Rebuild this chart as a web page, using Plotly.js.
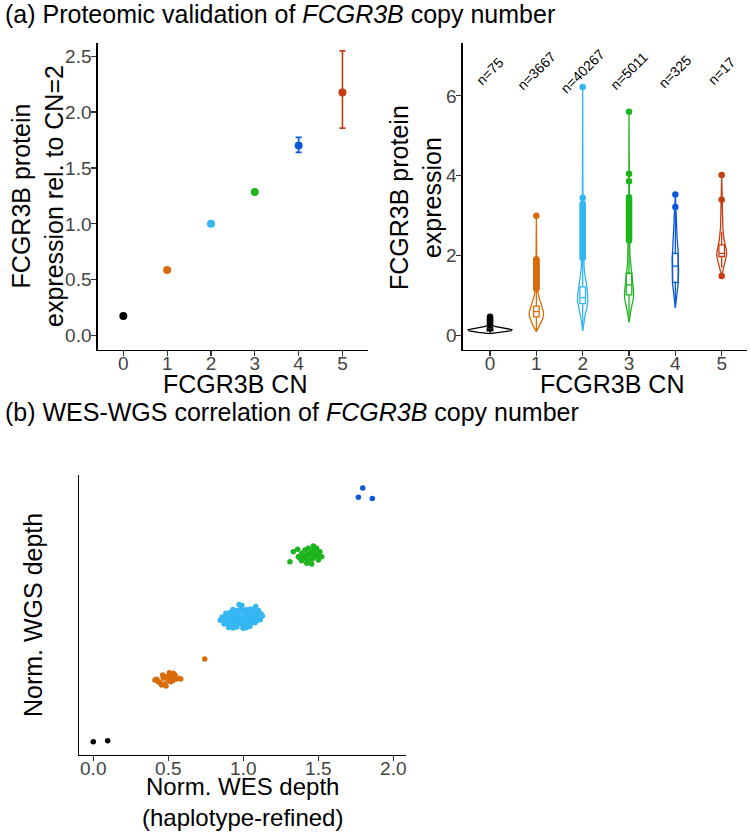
<!DOCTYPE html>
<html><head><meta charset="utf-8">
<script src="https://cdn.plot.ly/plotly-3.0.1.min.js"></script>
<style>html,body{margin:0;padding:0;background:#fff}#chart{width:750px;height:834px}</style>
</head><body><div id="chart"></div>
<script>
// ---------- data ----------
const cnCategories = [0, 1, 2, 3, 4, 5];
const cnColors = ['#000000', '#D96C0A', '#34B6F2', '#1EB41E', '#0A5AD8', '#C43E12'];

// (a) left: relative protein expression (mean and CI)
const relExpr   = [0.175, 0.587, 1.000, 1.284, 1.700, 2.175];
const relCiLow  = [0.168, 0.578, 0.994, 1.274, 1.639, 1.856];
const relCiHigh = [0.182, 0.596, 1.006, 1.294, 1.773, 2.547];

// (a) right: sample sizes
const nLabels = ['n=75', 'n=3667', 'n=40267', 'n=5011', 'n=325', 'n=17'];

// violin density profiles (expression levels and half widths)
const violinLevels = [
  [0.05, 0.08, 0.12, 0.15, 0.19, 0.23, 0.28, 0.35, 0.48],
  [0.10, 0.20, 0.30, 0.40, 0.50, 0.60, 0.70, 0.80, 0.90, 1.00, 1.10, 1.20, 1.40, 1.70, 2.00, 2.50, 3.00],
  [0.12, 0.30, 0.50, 0.70, 0.85, 1.00, 1.15, 1.30, 1.50, 1.70, 2.00, 2.50, 3.00, 3.50, 4.50, 6.22],
  [0.33, 0.50, 0.70, 0.90, 1.05, 1.20, 1.40, 1.60, 1.80, 2.00, 2.50, 3.00, 3.50, 4.00, 5.60],
  [0.69, 0.90, 1.10, 1.30, 1.60, 1.90, 2.10, 2.40, 2.70, 3.00, 3.30, 3.53],
  [1.49, 1.70, 1.90, 2.05, 2.20, 2.40, 2.70, 3.00, 3.40, 3.70, 4.02]
];
const violinHalfWidths = [
  [0, 0.25, 0.45, 0.47, 0.30, 0.10, 0.04, 0.02, 0],
  [0, 0.05, 0.09, 0.13, 0.155, 0.15, 0.13, 0.10, 0.07, 0.045, 0.03, 0.02, 0.014, 0.01, 0.006, 0.004, 0],
  [0, 0.02, 0.05, 0.09, 0.11, 0.11, 0.10, 0.08, 0.05, 0.03, 0.02, 0.012, 0.008, 0.005, 0.003, 0],
  [0, 0.02, 0.05, 0.09, 0.10, 0.09, 0.07, 0.05, 0.03, 0.02, 0.012, 0.008, 0.005, 0.003, 0],
  [0, 0.02, 0.04, 0.06, 0.07, 0.07, 0.06, 0.04, 0.025, 0.015, 0.008, 0],
  [0, 0.04, 0.09, 0.11, 0.09, 0.05, 0.025, 0.015, 0.01, 0.006, 0]
];

// box statistics
const boxQ1     = [0.12, 0.47, 0.80, 1.02, 1.33, 1.98];
const boxMedian = [0.15, 0.60, 0.95, 1.27, 1.74, 2.06];
const boxQ3     = [0.19, 0.74, 1.22, 1.56, 2.06, 2.27];
const boxLow    = [0.06, 0.14, 0.13, 0.35, 0.70, 1.70];
const boxHigh   = [0.25, 1.15, 1.88, 2.34, 3.10, 2.60];

// outliers
const outlierValues = [
  [0.26, 0.29, 0.32, 0.35, 0.38, 0.41, 0.44, 0.47],
  [1.17, 1.20, 1.23, 1.26, 1.30, 1.33, 1.36, 1.39, 1.42, 1.45, 1.48, 1.51, 1.55, 1.58, 1.61, 1.64, 1.67, 1.70, 1.73, 1.77, 1.80, 1.84, 1.88, 1.91, 3.00],
  [1.94, 1.98, 2.02, 2.06, 2.10, 2.14, 2.18, 2.22, 2.26, 2.30, 2.34, 2.38, 2.42, 2.46, 2.50, 2.54, 2.58, 2.62, 2.66, 2.70, 2.74, 2.78, 2.82, 2.86, 2.90, 2.94, 2.98, 3.02, 3.06, 3.10, 3.14, 3.18, 3.22, 3.26, 3.30, 3.45, 6.22],
  [2.38, 2.42, 2.46, 2.50, 2.54, 2.58, 2.62, 2.66, 2.70, 2.74, 2.78, 2.82, 2.86, 2.90, 2.94, 2.98, 3.02, 3.06, 3.10, 3.14, 3.18, 3.22, 3.26, 3.30, 3.34, 3.38, 3.42, 3.46, 3.86, 4.05, 5.60],
  [3.22, 3.53],
  [1.49, 3.40, 4.02]
];

// (b) WES vs WGS normalized depth
const wes0 = [0.000, 0.096];
const wgs0 = [0.000, 0.008];
const wes1 = [0.411, 0.433, 0.456, 0.478, 0.467, 0.463, 0.489, 0.500, 0.511, 0.523, 0.533, 0.538, 0.551, 0.567, 0.583, 0.516, 0.485, 0.445, 0.423, 0.507, 0.545, 0.529, 0.743];
const wgs1 = [0.494, 0.481, 0.454, 0.462, 0.508, 0.534, 0.521, 0.494, 0.534, 0.508, 0.548, 0.521, 0.500, 0.508, 0.502, 0.481, 0.446, 0.473, 0.500, 0.553, 0.534, 0.489, 0.662];
const wes2 = [0.972, 0.991, 1.083,
  0.931, 0.962, 0.988, 1.021, 1.048, 1.079, 1.101,
  0.884, 0.912, 0.941, 0.968, 1.002, 1.031, 1.062, 1.089, 1.118,
  0.858, 0.889, 0.921, 0.952, 0.981, 1.012, 1.041, 1.071, 1.102, 1.128,
  0.847, 0.878, 0.909, 0.941, 0.972, 1.003, 1.029, 1.061, 1.092, 1.113,
  0.872, 0.901, 0.932, 0.962, 0.991, 1.022, 1.051, 1.079,
  0.902, 0.931, 0.958, 0.998, 1.018, 1.043];
const wgs2 = [1.098, 1.089, 1.082,
  1.058, 1.052, 1.063, 1.056, 1.061, 1.068, 1.049,
  1.028, 1.034, 1.031, 1.027, 1.035, 1.029, 1.033, 1.026, 1.024,
  0.998, 1.003, 0.996, 1.001, 0.997, 1.004, 0.999, 1.002, 0.995, 1.006,
  0.972, 0.968, 0.974, 0.969, 0.971, 0.966, 0.973, 0.968, 0.970, 0.976,
  0.941, 0.944, 0.938, 0.942, 0.939, 0.943, 0.946, 0.952,
  0.913, 0.909, 0.918, 0.908, 0.911, 0.921];
const wes3 = [1.367, 1.389, 1.411, 1.433, 1.467, 1.489, 1.511, 1.523, 1.500, 1.456, 1.423, 1.389, 1.445, 1.478, 1.411, 1.489, 1.433, 1.467, 1.378, 1.311, 1.333, 1.362, 1.450, 1.430, 1.470, 1.400, 1.500, 1.460, 1.420];
const wgs3 = [1.479, 1.506, 1.533, 1.546, 1.565, 1.546, 1.519, 1.479, 1.453, 1.421, 1.426, 1.447, 1.493, 1.506, 1.479, 1.479, 1.453, 1.533, 1.466, 1.439, 1.519, 1.538, 1.510, 1.500, 1.480, 1.490, 1.500, 1.460, 1.460];
const wes4 = [1.767, 1.796, 1.860];
const wgs4 = [1.954, 2.028, 1.945];

// ---------- build ----------
const FONT = 'Liberation Sans, Arial, sans-serif';
const traces = [];

// panel (a) left
cnCategories.forEach((c, i) => {
  traces.push({
    type: 'scatter', mode: 'markers', x: [c], y: [relExpr[i]],
    xaxis: 'x', yaxis: 'y',
    marker: {size: 8, color: cnColors[i]},
    error_y: {type: 'data', symmetric: false,
      array: [relCiHigh[i] - relExpr[i]], arrayminus: [relExpr[i] - relCiLow[i]],
      color: cnColors[i], thickness: 1.6, width: 3},
    hoverinfo: 'skip', showlegend: false
  });
});

// panel (a) right: violins (outline), boxes, outliers
cnCategories.forEach((c, i) => {
  const ys = violinLevels[i], ws = violinHalfWidths[i];
  const xs = ys.map((y, k) => c + ws[k]).concat(ys.slice().reverse().map((y, k) => c - ws[ws.length - 1 - k]));
  const yy = ys.concat(ys.slice().reverse());
  traces.push({
    type: 'scatter', mode: 'lines', x: xs, y: yy, xaxis: 'x2', yaxis: 'y2',
    line: {color: cnColors[i], width: 1.3},
    hoverinfo: 'skip', showlegend: false
  });
  traces.push({
    type: 'box', x: [c], q1: [boxQ1[i]], median: [boxMedian[i]], q3: [boxQ3[i]],
    lowerfence: [boxLow[i]], upperfence: [boxHigh[i]],
    xaxis: 'x2', yaxis: 'y2', width: 0.12, whiskerwidth: 0,
    fillcolor: '#ffffff', line: {color: cnColors[i], width: 1.3},
    boxpoints: false, hoverinfo: 'skip', showlegend: false
  });
  traces.push({
    type: 'scatter', mode: 'markers', x: outlierValues[i].map(() => c), y: outlierValues[i],
    xaxis: 'x2', yaxis: 'y2', marker: {size: 6.5, color: cnColors[i]},
    hoverinfo: 'skip', showlegend: false
  });
});

// panel (b)
const wesAll = [wes0, wes1, wes2, wes3, wes4];
const wgsAll = [wgs0, wgs1, wgs2, wgs3, wgs4];
wesAll.forEach((w, i) => {
  traces.push({
    type: 'scatter', mode: 'markers', x: w, y: wgsAll[i], xaxis: 'x3', yaxis: 'y3',
    marker: {size: 5.5, color: cnColors[i]}, hoverinfo: 'skip', showlegend: false
  });
});

const axisBase = {
  showline: true, linecolor: '#000000', linewidth: 1.4,
  ticks: 'outside', ticklen: 5, tickwidth: 1.2, tickcolor: '#333333',
  showgrid: false, zeroline: false,
  tickfont: {family: FONT, size: 19, color: '#444444'}
};
const xTickShift = {ticklabelstandoff: -9};
const yTickShift = {ticklabelstandoff: -4};
const titleFont = {family: FONT, size: 25, color: '#000000'};

function paperAnn(text, px, py, angle, size) {
  return {text: text, xref: 'paper', yref: 'paper', x: px / 750, y: 1 - py / 834,
    xanchor: 'center', yanchor: 'middle', textangle: angle || 0, showarrow: false,
    font: Object.assign({}, titleFont, size ? {size: size} : {})};
}

const annotations = [
  {text: '(a) Proteomic validation of <i>FCGR3B</i> copy number', xref: 'paper', yref: 'paper',
   x: 3 / 750, y: 1 - 14 / 834, xanchor: 'left', yanchor: 'middle', showarrow: false, font: titleFont},
  {text: '(b) WES-WGS correlation of <i>FCGR3B</i> copy number', xref: 'paper', yref: 'paper',
   x: 3 / 750, y: 1 - 412 / 834, xanchor: 'left', yanchor: 'middle', showarrow: false, font: titleFont},
  // axis titles
  paperAnn('FCGR3B CN', 235, 384),
  paperAnn('FCGR3B CN', 612, 384),
  paperAnn('FCGR3B protein<br>expression rel. to CN=2', 38, 196, -90),
  paperAnn('FCGR3B protein<br>expression', 416, 198, -90),
  paperAnn('Norm. WES depth<br>(haplotype-refined)', 242, 802, 0, 24),
  paperAnn('Norm. WGS depth', 33, 615, -90)
];
cnCategories.forEach((c, i) => {
  annotations.push({text: nLabels[i], xref: 'x2', yref: 'y2', x: c, y: 6.62, textangle: -45,
    showarrow: false, font: {family: FONT, size: 14, color: '#000000'}});
});

const layout = {
  width: 750, height: 834, margin: {l: 0, r: 0, t: 0, b: 0},
  paper_bgcolor: '#ffffff', plot_bgcolor: '#ffffff', showlegend: false, boxmode: 'overlay',
  xaxis: Object.assign({}, axisBase, xTickShift, {domain: [97.7 / 750, 368.3 / 750], range: [-0.585, 5.59],
    tickvals: cnCategories, anchor: 'y'}),
  yaxis: Object.assign({}, axisBase, yTickShift, {domain: [1 - 350 / 834, 1 - 42.7 / 834], range: [-0.128, 2.62],
    tickvals: [0, 0.5, 1, 1.5, 2, 2.5], tickformat: '.1f', anchor: 'x'}),
  xaxis2: Object.assign({}, axisBase, xTickShift, {domain: [462.7 / 750, 746.7 / 750], range: [-0.59, 5.54],
    tickvals: cnCategories, anchor: 'y2'}),
  yaxis2: Object.assign({}, axisBase, yTickShift, {domain: [1 - 350 / 834, 1 - 42.7 / 834], range: [-0.36, 7.33],
    tickvals: [0, 2, 4, 6], anchor: 'x2'}),
  xaxis3: Object.assign({}, axisBase, xTickShift, {domain: [79 / 750, 405.7 / 750], range: [-0.095, 2.0825],
    tickvals: [0, 0.5, 1, 1.5, 2], tickformat: '.1f', anchor: 'y3'}),
  yaxis3: Object.assign({}, axisBase, {domain: [1 - 755 / 834, 1 - 475 / 834], range: [-0.105, 2.132],
    ticks: '', showticklabels: false, anchor: 'x3'}),
  annotations: annotations
};

Plotly.newPlot('chart', traces, layout, {staticPlot: true, displayModeBar: false});
</script></body></html>
